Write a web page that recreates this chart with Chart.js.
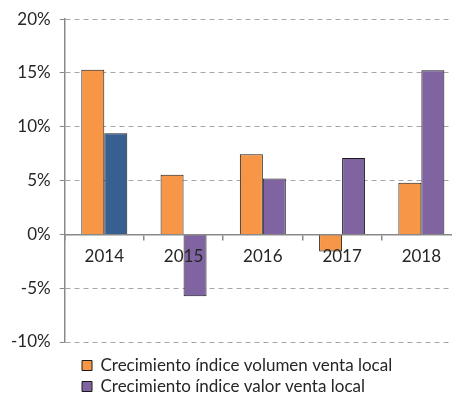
<!DOCTYPE html>
<html>
<head>
<meta charset="utf-8">
<script src="https://cdn.jsdelivr.net/npm/chart.js@4/dist/chart.umd.min.js"></script>
<style>
  html, body { margin: 0; padding: 0; background: #fff; overflow: hidden; }
  #wrap { width: 452px; height: 400px; overflow: hidden; }
  #box { width: 462px; height: 400px; }
</style>
</head>
<body>
<div id="wrap"><div id="box"><canvas id="chart"></canvas></div></div>
<script>
const years = ['2014', '2015', '2016', '2017', '2018'];
const volumen = [15.3, 5.55, 7.45, -1.6, 4.8];
const valor = [9.4, -5.75, 5.2, 7.1, 15.25];
const seriesNames = ['Crecimiento índice volumen venta local', 'Crecimiento índice valor venta local'];

const FONT = 'Lato, "Liberation Sans", sans-serif';
const axisGrey = '#898989';
const textCol = '#262626';

// first year of the value series is drawn in blue in the original
const valorColor = (c) => (c.type === 'data' && c.dataIndex === 0 ? '#375F92' : '#8064A2');

// legend is left-aligned under the plot, not against the canvas edge
const legendShift = {
  id: 'legendShift',
  afterLayout: (chart) => {
    if (chart.legend) {
      chart.legend.left = 78;
      chart.legend.top += 11;
    }
  },
};

new Chart(document.getElementById('chart'), {
  type: 'bar',
  data: {
    labels: years,
    datasets: [
      {
        label: seriesNames[0],
        data: volumen,
        backgroundColor: '#F79646',
        borderColor: '#1a1a1a',
        borderWidth: 1,
      },
      {
        label: seriesNames[1],
        data: valor,
        backgroundColor: valorColor,
        borderColor: '#1a1a1a',
        borderWidth: 1,
      },
    ],
  },
  options: {
    responsive: true,
    maintainAspectRatio: false,
    animation: false,
    categoryPercentage: 0.58,
    barPercentage: 1,
    layout: { padding: { top: -3, left: 2, right: 1, bottom: 6 } },
    plugins: {
      tooltip: { enabled: false },
      legend: {
        position: 'bottom',
        align: 'start',
        labels: {
          boxWidth: 10,
          boxHeight: 10,
          padding: 4,
          color: textCol,
          font: { family: FONT, size: 17 },
          generateLabels: (chart) => chart.data.datasets.map((ds, i) => ({
            text: ds.label,
            fillStyle: i === 0 ? '#F79646' : '#8064A2',
            strokeStyle: '#1a1a1a',
            lineWidth: 1,
            fontColor: textCol,
            datasetIndex: i,
            hidden: false,
          })),
        },
      },
    },
    scales: {
      x: {
        position: { y: 0 },
        grid: {
          drawOnChartArea: false,
          drawTicks: true,
          tickLength: 5,
          color: axisGrey,
          lineWidth: 1.5,
          z: 1,
        },
        border: { display: true, color: axisGrey, width: 1.5, z: 1 },
        ticks: {
          color: textCol,
          padding: 7,
          z: 1,
          font: { family: FONT, size: 17 },
        },
      },
      y: {
        min: -10,
        max: 20,
        grid: {
          color: '#A6A6A6',
          lineWidth: 1,
          tickLength: 5,
          tickColor: axisGrey,
        },
        border: { display: true, color: axisGrey, width: 1.5, dash: [5, 4] },
        ticks: {
          stepSize: 5,
          color: textCol,
          padding: 9,
          font: { family: FONT, size: 17 },
          callback: (v) => v + '%',
        },
      },
    },
  },
  plugins: [legendShift],
});
</script>
</body>
</html>
